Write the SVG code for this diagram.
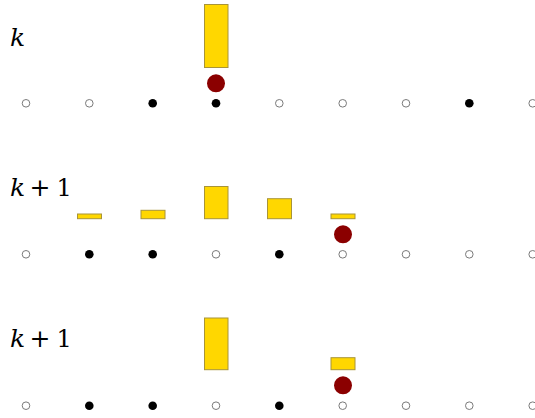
<svg xmlns="http://www.w3.org/2000/svg" width="535" height="418" viewBox="0 0 535 418">
<style>
.lbl{font-family:"DejaVu Serif","Liberation Serif",serif;font-size:24px;fill:#000}
.it{font-style:italic;font-size:25px}
.pl{font-size:25px}
.bar{fill:#FFD700;stroke:#A89438;stroke-width:1}
.ball{fill:#8B0000}
.on{fill:#000}
.off{fill:#fff;stroke:#7a7a7a;stroke-width:1}
</style>
<rect width="535" height="418" fill="#fff"/>
<g id="row1">
  <text class="lbl it" x="10" y="46">k</text>
  <rect class="bar" x="204.5" y="4.5" width="23.5" height="63"/>
  <circle class="ball" cx="216" cy="83.3" r="9"/>
  <g id="row1-sites">
    <circle class="off" cx="26" cy="103.3" r="3.8"/>
    <circle class="off" cx="89.3" cy="103.3" r="3.8"/>
    <circle class="on" cx="152.7" cy="103.3" r="4.3"/>
    <circle class="on" cx="216" cy="103.3" r="4.3"/>
    <circle class="off" cx="279.3" cy="103.3" r="3.8"/>
    <circle class="off" cx="342.7" cy="103.3" r="3.8"/>
    <circle class="off" cx="406" cy="103.3" r="3.8"/>
    <circle class="on" cx="469.3" cy="103.3" r="4.3"/>
    <circle class="off" cx="532.7" cy="103.3" r="3.8"/>
  </g>
</g>
<g id="row2">
  <text class="lbl" y="195.5"><tspan class="it" x="10">k</tspan><tspan class="pl" x="29.5">+</tspan><tspan x="56.5">1</tspan></text>
  <rect class="bar" x="77.5" y="214" width="24" height="4.7"/>
  <rect class="bar" x="141" y="210.3" width="24" height="8.4"/>
  <rect class="bar" x="204.5" y="186.5" width="23.5" height="32.2"/>
  <rect class="bar" x="267.5" y="198.7" width="24" height="20"/>
  <rect class="bar" x="331" y="214" width="24" height="4.7"/>
  <circle class="ball" cx="343" cy="234.3" r="9"/>
  <g id="row2-sites">
    <circle class="off" cx="26" cy="254.3" r="3.8"/>
    <circle class="on" cx="89.3" cy="254.3" r="4.3"/>
    <circle class="on" cx="152.7" cy="254.3" r="4.3"/>
    <circle class="off" cx="216" cy="254.3" r="3.8"/>
    <circle class="on" cx="279.3" cy="254.3" r="4.3"/>
    <circle class="off" cx="342.7" cy="254.3" r="3.8"/>
    <circle class="off" cx="406" cy="254.3" r="3.8"/>
    <circle class="off" cx="469.3" cy="254.3" r="3.8"/>
    <circle class="off" cx="532.7" cy="254.3" r="3.8"/>
  </g>
</g>
<g id="row3">
  <text class="lbl" y="347"><tspan class="it" x="10">k</tspan><tspan class="pl" x="29.5">+</tspan><tspan x="56.5">1</tspan></text>
  <rect class="bar" x="204.5" y="318" width="23.5" height="51.7"/>
  <rect class="bar" x="331" y="357.7" width="24" height="12"/>
  <circle class="ball" cx="343" cy="385.3" r="9"/>
  <g id="row3-sites">
    <circle class="off" cx="26" cy="405.7" r="3.8"/>
    <circle class="on" cx="89.3" cy="405.7" r="4.3"/>
    <circle class="on" cx="152.7" cy="405.7" r="4.3"/>
    <circle class="off" cx="216" cy="405.7" r="3.8"/>
    <circle class="on" cx="279.3" cy="405.7" r="4.3"/>
    <circle class="off" cx="342.7" cy="405.7" r="3.8"/>
    <circle class="off" cx="406" cy="405.7" r="3.8"/>
    <circle class="off" cx="469.3" cy="405.7" r="3.8"/>
    <circle class="off" cx="532.7" cy="405.7" r="3.8"/>
  </g>
</g>
</svg>
